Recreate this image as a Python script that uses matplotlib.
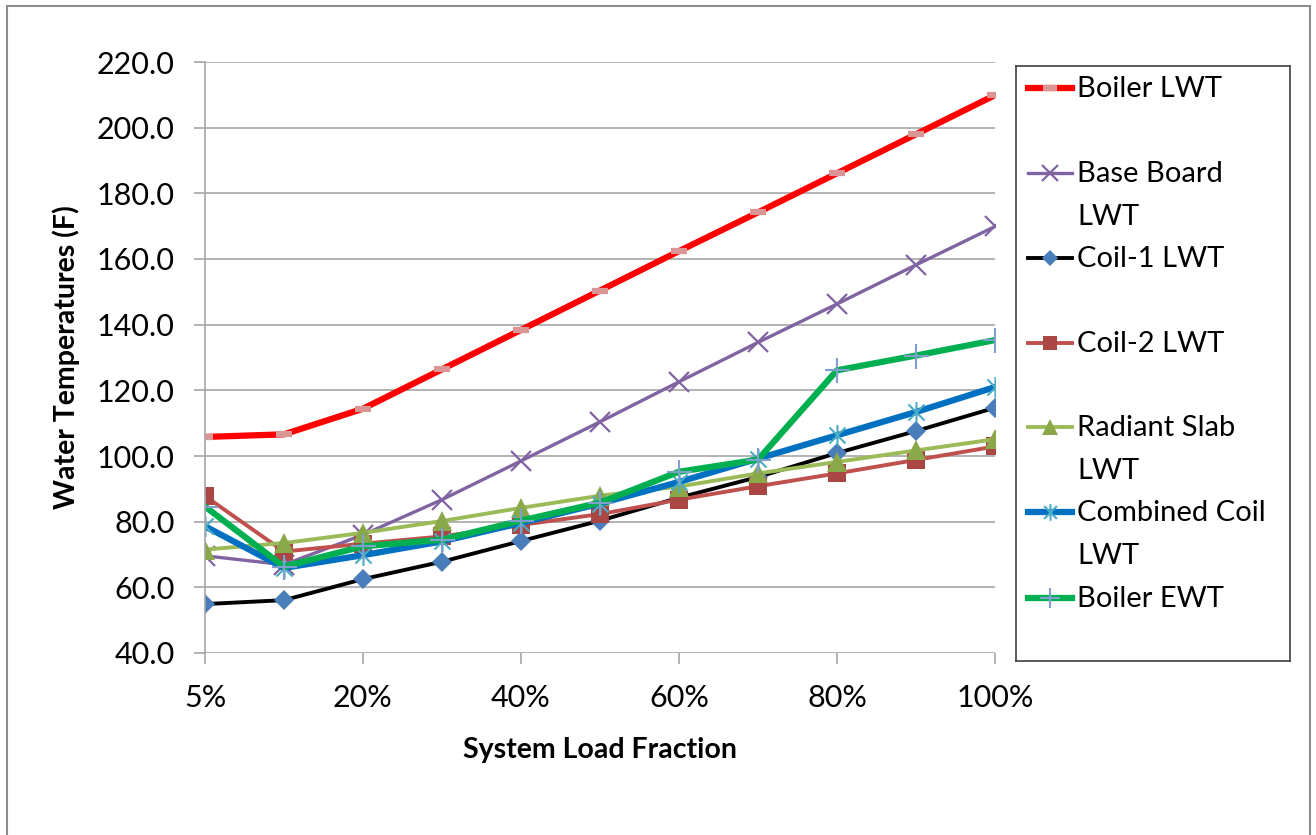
import numpy as np
import matplotlib
matplotlib.use("Agg")
import matplotlib.pyplot as plt
from matplotlib.path import Path
from matplotlib.patches import Rectangle
from matplotlib.lines import Line2D

plt.rcParams['font.family'] = ['Lato', 'DejaVu Sans']

load_labels = ['5%', '10%', '20%', '30%', '40%', '50%', '60%', '70%', '80%', '90%', '100%']

boiler_lwt = [105.8, 106.6, 114.4, 126.4, 138.4, 150.4, 162.4, 174.2, 186.1, 198.0, 209.9]
base_board_lwt = [69.6, 66.9, 76.0, 86.7, 98.5, 110.4, 122.6, 134.6, 146.3, 158.2, 169.9]
coil1_lwt = [54.9, 56.1, 62.5, 67.8, 74.1, 80.3, 87.3, 93.6, 100.9, 107.6, 114.7]
coil2_lwt = [87.8, 70.9, 73.3, 75.5, 79.0, 82.3, 86.7, 90.8, 94.7, 98.8, 102.9]
radiant_slab_lwt = [71.5, 73.5, 76.6, 80.2, 84.2, 87.9, 90.7, 94.7, 98.2, 101.7, 105.1]
combined_coil_lwt = [78.6, 65.9, 69.8, 74.0, 79.6, 85.5, 92.1, 99.2, 106.3, 113.4, 121.0]
boiler_ewt = [84.6, 66.3, 72.5, 74.5, 80.3, 85.8, 95.2, 98.9, 126.1, 130.6, 135.3]

series_names = ['Boiler LWT', 'Base Board\nLWT', 'Coil-1 LWT', 'Coil-2 LWT',
                'Radiant Slab\nLWT', 'Combined Coil\nLWT', 'Boiler EWT']

# excel style star marker: an X with a vertical bar
star = Path([(-1, -1), (1, 1), (-1, 1), (1, -1), (0, -1.3), (0, 1.3)],
            [Path.MOVETO, Path.LINETO, Path.MOVETO, Path.LINETO, Path.MOVETO, Path.LINETO])

styles = [
    dict(color='#FF0000', lw=4.5, marker='_', ms=12, mew=4.5, mec='#D99694', mfc='#D99694'),
    dict(color='#8064A2', lw=2.4, marker='x', ms=14, mew=1.6, mec='#8064A2', mfc='#8064A2'),
    dict(color='#000000', lw=2.8, marker='D', ms=10.5, mew=0, mec='#4A7EBB', mfc='#4A7EBB'),
    dict(color='#C0504D', lw=2.8, marker='s', ms=12.5, mew=0, mec='#AA4643', mfc='#AA4643'),
    dict(color='#9BBB59', lw=2.8, marker='^', ms=14, mew=0, mec='#8AA84A', mfc='#8AA84A'),
    dict(color='#0070C0', lw=4.5, marker=star, ms=15, mew=1.5, mec='#4BACC6', mfc='none'),
    dict(color='#00B050', lw=4.5, marker='+', ms=18, mew=1.5, mec='#7F9FCF', mfc='none'),
]
data = [boiler_lwt, base_board_lwt, coil1_lwt, coil2_lwt,
        radiant_slab_lwt, combined_coil_lwt, boiler_ewt]

W, H = 1316, 835
fig = plt.figure(figsize=(W / 100, H / 100), dpi=100)
fig.patches.append(Rectangle((7 / W, -0.05), 1303 / W, 1.05 - 6 / H, transform=fig.transFigure,
                             fill=False, edgecolor='#8C8C8C', lw=1.5))

ax = fig.add_axes([205 / W, (H - 653) / H, 790 / W, 591 / H])
x = np.arange(len(load_labels))
for vals, st in zip(data, styles):
    ax.plot(x, vals, solid_joinstyle='round', **st)

ax.set_xlim(0, 10)
ax.set_ylim(40, 220)
ax.set_yticks(np.arange(40, 221, 20))
ax.set_yticklabels(['%.1f' % v for v in np.arange(40, 221, 20)])
ax.set_xticks(x[::2])
ax.set_xticklabels(load_labels[::2])
ax.grid(axis='y', color='#A6A6A6', lw=1.2)
ax.set_axisbelow(True)
for s in ['top', 'right', 'bottom']:
    ax.spines[s].set_visible(False)
ax.spines['left'].set_color('#A6A6A6')
ax.spines['left'].set_linewidth(1.2)
ax.tick_params(axis='both', colors='#A6A6A6', labelcolor='black', labelsize=22,
               length=8, width=1.2, direction='out')
ax.tick_params(axis='y', pad=14)
ax.tick_params(axis='x', pad=14)
ax.set_ylabel('Water Temperatures (F)', fontsize=20.5, fontweight='bold', labelpad=12)
ax.set_xlabel('System Load Fraction', fontsize=20.5, fontweight='bold', labelpad=18)

# legend drawn by hand so wrapped labels sit like excel's
lx0, ly0, lx1, ly1 = 1016, 66, 1290, 661
lax = fig.add_axes([lx0 / W, (H - ly1) / H, (lx1 - lx0) / W, (ly1 - ly0) / H])
lax.set_xlim(lx0, lx1)
lax.set_ylim(ly1, ly0)
lax.set_xticks([])
lax.set_yticks([])
for s in lax.spines.values():
    s.set_color('#404040')
    s.set_linewidth(1.2)
row_y = [88, 173, 258, 343, 427, 512, 598]
for yy, name, st in zip(row_y, series_names, styles):
    lax.add_line(Line2D([1028, 1072], [yy, yy], color=st['color'], lw=st['lw']))
    lax.add_line(Line2D([1050], [yy], marker=st['marker'], ms=st['ms'] * 0.8, mew=st['mew'],
                        mec=st['mec'], mfc=st['mfc'], lw=0))
    lax.text(1077, yy - 12, name, fontsize=21, va='top', ha='left', linespacing=1.8)

fig.savefig('out.png', dpi=100)
